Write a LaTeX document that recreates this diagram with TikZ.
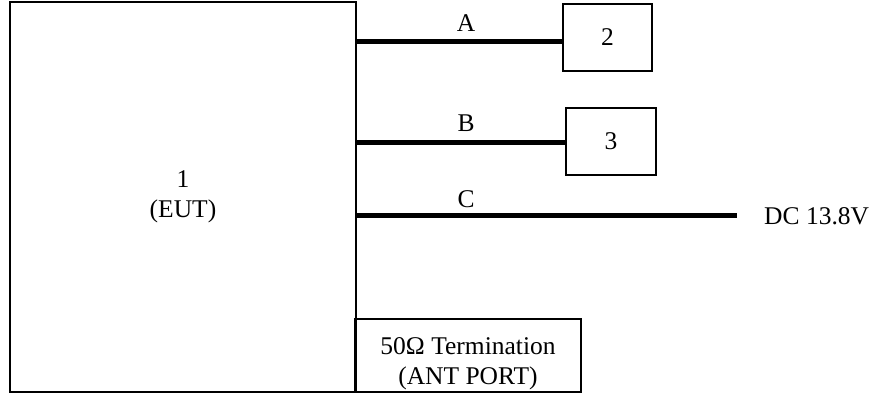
\documentclass[tikz,border=0pt]{standalone}
\usepackage{fontspec}
\setmainfont{Liberation Serif}
\begin{document}
\begin{tikzpicture}[x=1pt,y=-1pt,
  box/.style={draw=black,line width=1.6pt,rectangle,inner sep=0pt,align=center,
    font=\fontsize{25.5}{30}\selectfont},
  cable/.style={line width=5pt},
  lbl/.style={font=\fontsize{25.5}{30}\selectfont,inner sep=0pt}]
\useasboundingbox (0,0) rectangle (874,394);
% main blocks
\node[box,minimum width=346pt,minimum height=390pt] (eut) at (183,197) {1\\(EUT)};
\node[box,minimum width=89pt,minimum height=67pt] (box2) at (607.5,37.5) {2};
\node[box,minimum width=90pt,minimum height=67pt] (box3) at (611,141.5) {3};
\node[box,minimum width=226pt,minimum height=73pt] (term) at (468,355.5) {};
\node[lbl,align=center] (termtxt) at (468,364) {50Ω Termination\\(ANT PORT)};
% cables
\coordinate (dcend) at (737,215);
\draw[cable] (eut.east |- 0,41) -- (box2.west |- 0,41);
\draw[cable] (eut.east |- 0,142) -- (box3.west |- 0,142);
\draw[cable] (eut.east |- dcend) -- (dcend);
% labels
\node[lbl] (la) at (466,23) {A};
\node[lbl] (lb) at (466,123) {B};
\node[lbl] (lc) at (466,199) {C};
\node[lbl,anchor=west] (dc) at (764,216) {DC 13.8V};
\end{tikzpicture}
\end{document}
